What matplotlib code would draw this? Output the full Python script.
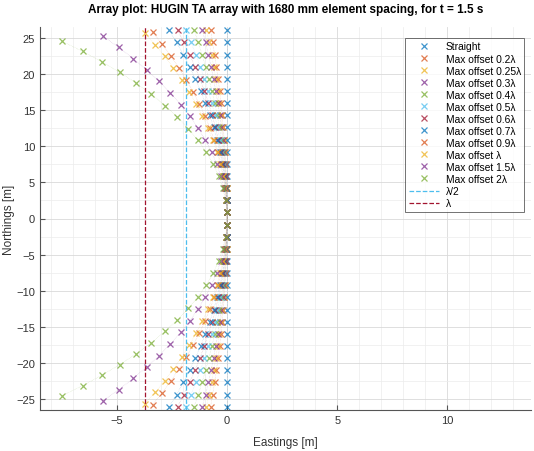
import matplotlib.pyplot as plt
from matplotlib.ticker import MultipleLocator

plt.rcParams['font.family'] = ['Liberation Sans', 'DejaVu Sans']

lam = 3.75  # wavelength [m]

# nominal element northings, top half of the 32-element array (mirrored below)
y_nom = [0.84, 2.52, 4.20, 5.88, 7.56, 9.24, 10.92, 12.60, 14.28, 15.96,
         17.64, 19.32, 21.00, 22.68, 24.36, 26.04]

x_straight = [0.0] * 16
x_02 = [-0.00, -0.01, -0.02, -0.04, -0.06, -0.09, -0.13, -0.18, -0.23, -0.28,
        -0.34, -0.41, -0.49, -0.57, -0.66, -0.75]
x_025 = [-0.00, -0.01, -0.02, -0.05, -0.08, -0.12, -0.16, -0.22, -0.28, -0.35,
         -0.43, -0.52, -0.61, -0.71, -0.82, -0.94]
x_03 = [-0.00, -0.01, -0.03, -0.06, -0.09, -0.14, -0.20, -0.26, -0.34, -0.42,
        -0.52, -0.62, -0.73, -0.85, -0.98, -1.13]
x_04 = [-0.00, -0.01, -0.04, -0.08, -0.13, -0.19, -0.26, -0.35, -0.45, -0.56,
        -0.69, -0.83, -0.98, -1.14, -1.31, -1.50]
x_05 = [-0.00, -0.02, -0.05, -0.10, -0.16, -0.24, -0.33, -0.44, -0.56, -0.70,
        -0.86, -1.03, -1.22, -1.42, -1.64, -1.88]
x_06 = [-0.00, -0.02, -0.06, -0.11, -0.19, -0.28, -0.40, -0.53, -0.68, -0.85,
        -1.03, -1.24, -1.46, -1.71, -1.97, -2.25]
x_07 = [-0.00, -0.02, -0.07, -0.13, -0.22, -0.33, -0.46, -0.61, -0.79, -0.99,
        -1.20, -1.45, -1.71, -1.99, -2.30, -2.63]
x_09 = [-0.00, -0.03, -0.09, -0.17, -0.28, -0.42, -0.59, -0.79, -1.01, -1.27,
        -1.55, -1.86, -2.20, -2.56, -2.95, -3.38]
y_09 = [0.84, 2.52, 4.20, 5.88, 7.55, 9.23, 10.90, 12.57, 14.23, 15.89,
        17.55, 19.20, 20.85, 22.49, 24.12, 25.75]
x_10 = [-0.00, -0.04, -0.10, -0.19, -0.32, -0.47, -0.66, -0.88, -1.13, -1.41,
        -1.72, -2.06, -2.44, -2.84, -3.28, -3.75]
y_10 = [0.84, 2.52, 4.20, 5.88, 7.55, 9.22, 10.89, 12.56, 14.22, 15.88,
        17.53, 19.17, 20.81, 22.44, 24.06, 25.68]
x_15 = [-0.01, -0.05, -0.15, -0.29, -0.47, -0.71, -0.99, -1.32, -1.69, -2.11,
        -2.58, -3.10, -3.66, -4.27, -4.92, -5.63]
y_15 = [0.84, 2.52, 4.20, 5.87, 7.54, 9.20, 10.86, 12.51, 14.15, 15.77,
        17.39, 18.98, 20.57, 22.13, 23.68, 25.20]
x_20 = [-0.01, -0.07, -0.20, -0.38, -0.63, -0.94, -1.32, -1.76, -2.26, -2.82,
        -3.44, -4.13, -4.88, -5.69, -6.56, -7.50]
y_20 = [0.84, 2.52, 4.19, 5.86, 7.52, 9.18, 10.81, 12.44, 14.04, 15.62,
        17.18, 18.72, 20.22, 21.69, 23.12, 24.52]

series = [
    ('Straight', x_straight, y_nom),
    ('Max offset 0.2λ', x_02, y_nom),
    ('Max offset 0.25λ', x_025, y_nom),
    ('Max offset 0.3λ', x_03, y_nom),
    ('Max offset 0.4λ', x_04, y_nom),
    ('Max offset 0.5λ', x_05, y_nom),
    ('Max offset 0.6λ', x_06, y_nom),
    ('Max offset 0.7λ', x_07, y_nom),
    ('Max offset 0.9λ', x_09, y_09),
    ('Max offset λ', x_10, y_10),
    ('Max offset 1.5λ', x_15, y_15),
    ('Max offset 2λ', x_20, y_20),
]

# MATLAB default colour order
colors = ['#0072BD', '#D95319', '#EDB120', '#7E2F8E', '#77AC30', '#4DBEEE', '#A2142F']

fig = plt.figure(figsize=(5.34, 4.52), dpi=100)
ax = fig.add_axes([40 / 534, 41 / 452, 491 / 534, 383 / 452])

for i, (name, xs, ys) in enumerate(series):
    c = colors[i % len(colors)]
    x_full = xs[::-1] + xs
    y_full = [-v for v in ys[::-1]] + ys
    ax.plot(x_full, y_full, ':', color=c, lw=0.4, alpha=0.35)
    ax.plot(x_full, y_full, 'x', color=c, ms=4.5, mew=0.9, alpha=0.75,
            linestyle='none', label=name)

ax.axvline(-lam / 2, color='#4DBEEE', ls='--', lw=0.9, label='λ/2')
ax.axvline(-lam, color='#A2142F', ls='--', lw=0.9, label='λ')

ax.set_xlim(-8.5, 13.8)
ax.set_ylim(-26.5, 26.5)
ax.xaxis.set_major_locator(MultipleLocator(5))
ax.xaxis.set_minor_locator(MultipleLocator(1))
ax.yaxis.set_major_locator(MultipleLocator(5))
ax.yaxis.set_minor_locator(MultipleLocator(2.5))
ax.grid(True, which='major', color='#d9d9d9', lw=0.6)
ax.grid(True, which='minor', color='#ececec', lw=0.5)
ax.set_axisbelow(True)
for s in ['top', 'right']:
    ax.spines[s].set_visible(False)
for s in ['left', 'bottom']:
    ax.spines[s].set_color('#555555')
    ax.spines[s].set_linewidth(0.8)
ax.tick_params(which='both', direction='in', labelsize=8, colors='#555555',
               labelcolor='#333333')
ax.tick_params(which='minor', length=0)

ax.set_xlabel('Eastings [m]', fontsize=8.5, color='#333333', labelpad=8)
ax.set_ylabel('Northings [m]', fontsize=8.5, color='#333333', labelpad=1)
ax.set_title('Array plot: HUGIN TA array with 1680 mm element spacing, for t = 1.5 s',
             fontsize=8.5, fontweight='bold', pad=11)

leg = ax.legend(loc='upper right', fontsize=7.4, frameon=True, fancybox=False,
                borderpad=0.35, labelspacing=0.2, handlelength=3.0,
                handletextpad=0.6, bbox_to_anchor=(0.997, 0.985))
leg.get_frame().set_edgecolor('#333333')
leg.get_frame().set_linewidth(0.6)

fig.savefig('out.png', dpi=100)
